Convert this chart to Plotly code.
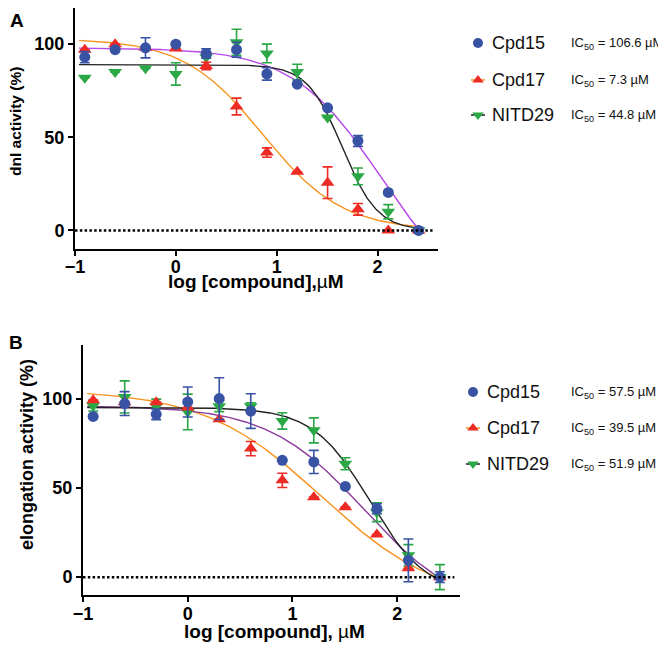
import numpy as np
import plotly.graph_objects as go

# ---------------- data ----------------
log_conc = [-0.903, -0.602, -0.301, 0.0, 0.301, 0.602, 0.903, 1.204, 1.505, 1.806, 2.107, 2.408]
tick_x = [-1, 0, 1, 2]
tick_y = [0, 50, 100]

# Panel A: dnl activity (%)
a_cpd15 = [93, 97, 98, 100, 95, 97, 84, 78.5, 65.8, 48, 20.4, 0]
a_cpd15_err = [3, 0, 5.4, 0, 2.5, 4, 3.3, 0, 0, 2.9, 0, 1.5]
a_cpd17 = [97, 100, 98, 97.7, 88.3, 66.5, 41.8, 31.5, 25.6, 11.3, 0, 0]
a_cpd17_err = [0, 0, 0, 0, 2, 4.5, 2.5, 0, 8.5, 3.1, 0, 0]
a_nitd29 = [82, 85, 87, 84, 93, 101, 95, 85, 60.6, 29, 10, 0]
a_nitd29_err = [0, 0, 0, 6, 0, 7, 5, 4.2, 0, 4.5, 3.8, 0]
a_ic50 = ["106.6", "7.3", "44.8"]
# fitted 4PL curve parameters: top, bottom, logIC50, hill
a_fit_cpd15 = (98, -40, 2.028, 1.0)
a_fit_cpd17 = (103, 0, 0.863, 1.1)
a_fit_nitd29 = (89, 0, 1.651, 2.5)

# Panel B: elongation activity (%)
b_cpd15 = [90, 97.2, 91.2, 98.1, 100, 93, 65.4, 64.5, 50.8, 38.3, 9.4, 0]
b_cpd15_err = [0, 6.7, 3, 8.4, 11.7, 9.7, 0, 6.5, 0, 2.8, 12, 3]
b_cpd17 = [99, 98, 98, 95, 88.4, 72, 54.2, 44.8, 39.2, 23.9, 5, 0]
b_cpd17_err = [0, 0, 0, 0, 0, 4, 4, 0, 0, 0, 0, 0]
b_nitd29 = [96, 100.9, 95.7, 92.5, 95.7, 95.7, 87.5, 82.2, 63.5, 36.4, 12.2, 0]
b_nitd29_err = [3, 9, 4, 10, 3, 2, 4.6, 7, 3.4, 5.3, 6, 7]
b_ic50 = ["57.5", "39.5", "51.9"]
b_fit_cpd15 = (96, -20, 1.68, 0.95)
b_fit_cpd17 = (105, -15, 1.28, 0.77)
b_fit_nitd29 = (95, -10, 1.74, 1.6)

names = ["Cpd15", "Cpd17", "NITD29"]

# ---------------- styles ----------------
BLUE = "#3953a4"
RED = "#ee2a24"
GREEN = "#2aa846"
ORANGE = "#f7931e"
PURPLE_A = "#b847ec"
PURPLE_B = "#8a3c9c"
BLACK = "#222222"
FONT = "Liberation Sans, Arial, sans-serif"

W, H = 666, 651
OFF = 8  # page body margin


def px_x(p):
    return min(max((p - OFF) / W, 0), 1)


def px_y(p):
    return min(max(1 - (p - OFF) / H, 0), 1)


def fourpl(x, p):
    top, bottom, logic, hill = p
    x = np.asarray(x)
    return bottom + (top - bottom) / (1 + 10 ** ((x - logic) * hill))


xc = np.linspace(-0.96, 2.41, 300)

fig = go.Figure()

panels = [
    dict(xa="x", ya="y",
         data=[(a_nitd29, a_nitd29_err), (a_cpd17, a_cpd17_err), (a_cpd15, a_cpd15_err)],
         fits=[(a_fit_cpd17, ORANGE), (a_fit_cpd15, PURPLE_A), (a_fit_nitd29, BLACK)]),
    dict(xa="x2", ya="y2",
         data=[(b_nitd29, b_nitd29_err), (b_cpd17, b_cpd17_err), (b_cpd15, b_cpd15_err)],
         fits=[(b_fit_cpd17, ORANGE), (b_fit_cpd15, PURPLE_B), (b_fit_nitd29, BLACK)]),
]
styles = [(GREEN, "triangle-down", 12), (RED, "triangle-up", 12), (BLUE, "circle", 11)]

for pan in panels:
    for (params, col) in pan["fits"]:
        fig.add_trace(go.Scatter(x=xc, y=fourpl(xc, params), mode="lines",
                                 line=dict(color=col, width=1.4),
                                 xaxis=pan["xa"], yaxis=pan["ya"], showlegend=False,
                                 hoverinfo="skip"))
    for (vals, errs), (col, sym, sz) in zip(pan["data"], styles):
        fig.add_trace(go.Scatter(x=log_conc, y=vals, mode="markers",
                                 marker=dict(color=col, symbol=sym, size=sz, line=dict(width=0)),
                                 error_y=dict(type="data", array=errs, visible=True,
                                              color=col, thickness=1.6, width=5),
                                 xaxis=pan["xa"], yaxis=pan["ya"], showlegend=False))

# ---------------- legends (overlay axis in pixel units) ----------------
leg_specs = [
    dict(mx=478, tx=490, ix=569, rows=[43, 80, 115], ic=a_ic50),
    dict(mx=473, tx=485, ix=569, rows=[392, 428, 464], ic=b_ic50),
]
leg_marker = [(BLUE, "circle", None), (RED, "triangle-up", ORANGE), (GREEN, "triangle-down", BLACK)]
annotations = []
for spec in leg_specs:
    for i, (row, (col, sym, lcol)) in enumerate(zip(spec["rows"], leg_marker)):
        if lcol is not None:
            fig.add_trace(go.Scatter(x=[spec["mx"] - 7, spec["mx"] + 7], y=[row, row], mode="lines",
                                     line=dict(color=lcol, width=1.5), xaxis="x3", yaxis="y3",
                                     showlegend=False, hoverinfo="skip"))
        fig.add_trace(go.Scatter(x=[spec["mx"]], y=[row], mode="markers",
                                 marker=dict(color=col, symbol=sym, size=10),
                                 xaxis="x3", yaxis="y3", showlegend=False, hoverinfo="skip"))
        annotations.append(dict(x=spec["tx"], y=row, xref="x3", yref="y3", text=names[i],
                                showarrow=False, xanchor="left", yanchor="middle",
                                font=dict(family=FONT, size=18, color="#111")))
        annotations.append(dict(x=spec["ix"], y=row, xref="x3", yref="y3",
                                text="IC<sub>50</sub> = " + spec["ic"][i] + " µM",
                                showarrow=False, xanchor="left", yanchor="middle",
                                font=dict(family=FONT, size=13, color="#111")))

# axis titles & panel letters
def label(x, y, text, size, angle=0):
    return dict(x=px_x(x), y=px_y(y), xref="paper", yref="paper", text=text, textangle=angle,
                showarrow=False, xanchor="center", yanchor="middle",
                font=dict(family=FONT, size=size, color="black", weight="bold"))


annotations += [
    label(15, 122, "dnl activity (%)", 15.5, -90),
    label(27, 455, "elongation activity (%)", 18, -90),
    label(256, 281, "log [compound],<span style='font-weight:normal'>µ</span>M", 19),
    label(274, 631, "log [compound], <span style='font-weight:normal'>µ</span>M", 19),
    label(17, 20, "A", 19),
    label(16, 342, "B", 19),
]

axis_common = dict(showgrid=False, zeroline=False, showline=True, linecolor="black", linewidth=2,
                   ticks="outside", ticklen=5, tickwidth=2, tickcolor="black", automargin=False,
                   tickfont=dict(family=FONT, size=18, color="black", weight="bold"))

shapes = [
    dict(type="line", xref="x domain", yref="y", x0=0, x1=0.985, y0=0, y1=0,
         line=dict(color="black", width=2.5, dash="2.5px,2.3px")),
    dict(type="line", xref="x2 domain", yref="y2", x0=0, x1=0.985, y0=0, y1=0,
         line=dict(color="black", width=2.5, dash="2.5px,2.3px")),
]

fig.update_layout(
    template="none",
    width=W, height=H, margin=dict(l=0, r=0, t=0, b=0, pad=0, autoexpand=False),
    paper_bgcolor="white", plot_bgcolor="rgba(0,0,0,0)",
    showlegend=False,
    xaxis=dict(domain=[px_x(75), px_x(438)], range=[-1, 2.6], tickvals=tick_x, anchor="y",
               ticklabelstandoff=-5, **axis_common),
    yaxis=dict(domain=[px_y(249), px_y(8)], range=[-10, 119.4], tickvals=tick_y, anchor="x", **axis_common),
    xaxis2=dict(domain=[px_x(83), px_x(460)], range=[-1, 2.6], tickvals=tick_x, anchor="y2",
                ticklabelstandoff=-4, **axis_common),
    yaxis2=dict(domain=[px_y(595), px_y(345)], range=[-10, 130], tickvals=tick_y, anchor="x2", **axis_common),
    xaxis3=dict(domain=[0, 1], range=[OFF, W + OFF], visible=False, anchor="y3", automargin=False),
    yaxis3=dict(domain=[0, 1], range=[H + OFF, OFF], visible=False, anchor="x3", automargin=False),
    annotations=annotations,
    shapes=shapes,
)

fig.write_html("out.html")
